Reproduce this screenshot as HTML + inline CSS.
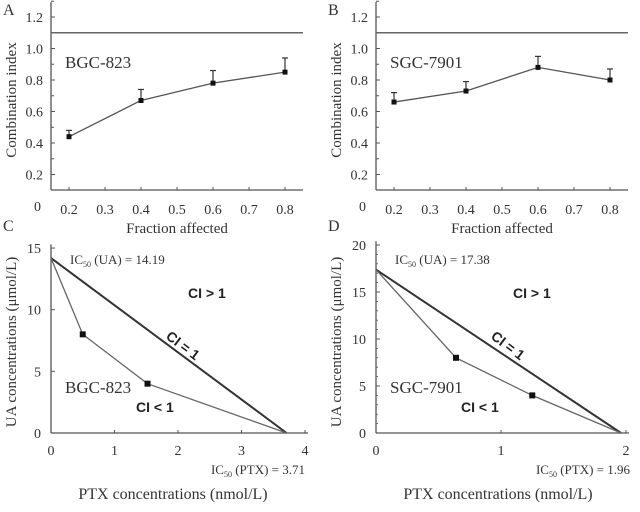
<!DOCTYPE html>
<html><head><meta charset="utf-8"><style>
body{margin:0;background:#fff}
svg{display:block;font-family:"Liberation Serif",serif;fill:#333}
.s{font-family:"Liberation Sans",sans-serif;font-weight:bold;fill:#222}
</style></head><body>
<svg id="c" width="640" height="512"></svg>
<script>
const fa = [0.2, 0.4, 0.6, 0.8];
const ciA = [0.44, 0.67, 0.78, 0.85];
const errA = [0.04, 0.07, 0.08, 0.09];
const ciB = [0.66, 0.73, 0.88, 0.80];
const errB = [0.06, 0.06, 0.07, 0.07];
const ciTicks = [0.2, 0.4, 0.6, 0.8, 1.0, 1.2];
const faTicks = [0.2, 0.3, 0.4, 0.5, 0.6, 0.7, 0.8];
const ptxC = [0, 0.5, 1.52, 3.71];
const uaC = [14.19, 8, 4, 0];
const ptxD = [0, 0.64, 1.25, 1.96];
const uaD = [17.38, 8, 4, 0];
const xTicksC = [0, 1, 2, 3, 4];
const yTicksC = [0, 5, 10, 15];
const xTicksD = [0, 1, 2];
const yTicksD = [0, 5, 10, 15, 20];

const svg = document.getElementById('c');
const NS = 'http://www.w3.org/2000/svg';
function el(tag, attrs, parent, txt){
  const e = document.createElementNS(NS, tag);
  for (const k in attrs) e.setAttribute(k, attrs[k]);
  if (txt !== undefined) e.textContent = txt;
  (parent || svg).appendChild(e);
  return e;
}
function ln(x1,y1,x2,y2,c,w,p){return el('line',{x1,y1,x2,y2,stroke:c||'#555','stroke-width':w||1.3},p);}

function ciPanel(ox, letter, label, vals, errs, name){
  const g = el('g', {});
  
  
  const x0 = ox + 51, xr = ox + 303, yb = 190;
  const X = v => x0 + (v - 0.15) * 360;
  const Y = v => 206 - v * 157.5;
  ln(x0, 2, x0, yb, '#555', 1.3, g);
  ln(x0, yb, xr, yb, '#555', 1.3, g);
  for (let v = 0.3; v <= 1.31; v += 0.2) ln(x0, Y(v), x0+3, Y(v), '#555', 1, g);
  ciTicks.forEach(t => {
    ln(x0, Y(t), x0+4, Y(t), '#555', 1, g);
    const tx = el('text', {x: x0-8, y: Y(t)+5, 'font-size': 14, 'text-anchor': 'end'}, g, t.toFixed(1));
    
  });
  el('text', {x: x0-10, y: 211, 'font-size': 14, 'text-anchor': 'end'}, g, '0');
  faTicks.forEach(t => {
    ln(X(t), yb, X(t), yb-3, '#555', 1, g);
    const tx = el('text', {x: X(t), y: 214, 'font-size': 14, 'text-anchor': 'middle'}, g, t.toFixed(1));
    
  });
  const ref = ln(x0, Y(1.1), xr, Y(1.1), '#666', 1.5, g);
  
  const pts = fa.map((f,i)=>X(f)+','+Y(vals[i])).join(' ');
  const pl = el('polyline', {points: pts, fill: 'none', stroke: '#555', 'stroke-width': 1.3}, g);
  
  fa.forEach((f,i)=>{
    const x = X(f), y = Y(vals[i]), yt = Y(vals[i]+errs[i]);
    const eb = ln(x, y, x, yt, '#333', 1.2, g);
    
    ln(x-3, yt, x+3, yt, '#333', 1.2, g);
    const m = el('rect', {x: x-2.5, y: y-2.5, width: 5, height: 5, fill: '#111'}, g);
    
  });
  const lt = el('text', {x: ox+3, y: 15, 'font-size': 16}, g, letter);
  
  const lb = el('text', {x: ox+65, y: 68, 'font-size': 17}, g, label);
  
  const yt = el('text', {x: 0, y: 0, 'font-size': 15, 'text-anchor': 'middle', transform: `translate(${ox+16},100) rotate(-90)`}, g, 'Combination index');
  
  const xt = el('text', {x: ox+177, y: 233, 'font-size': 15, 'text-anchor': 'middle'}, g, 'Fraction affected');
  
}

function isoPanel(ox, letter, label, px, ua, xT, yT, xs, ys, xmax, ymax, ic50ua, ic50ptx, name, minorY){
  const g = el('g', {});
  
  
  const x0 = ox, yb = 433;
  const X = v => x0 + v * xs;
  const Y = v => yb - v * ys;
  ln(x0, Y(ymax), x0, yb, '#555', 1.3, g);
  ln(x0, yb, X(xmax)+3, yb, '#555', 1.3, g);
  if (minorY) for (let v = 1; v < ymax; v++) ln(x0, Y(v), x0+2, Y(v), '#555', 0.8, g);
  yT.forEach(t => {
    ln(x0, Y(t), x0+4, Y(t), '#555', 1, g);
    const tx = el('text', {x: x0-10, y: Y(t)+5, 'font-size': 14, 'text-anchor': 'end'}, g, t);
    
  });
  xT.forEach(t => {
    ln(X(t), yb, X(t), yb-3, '#555', 1, g);
    const tx = el('text', {x: X(t), y: 455, 'font-size': 14, 'text-anchor': 'middle'}, g, t);
    
  });
  const ad = ln(X(0), Y(ua[0]), X(px[px.length-1]), Y(0), '#333', 2, g);
  
  const pl = el('polyline', {points: px.map((p,i)=>X(p)+','+Y(ua[i])).join(' '), fill:'none', stroke:'#666', 'stroke-width':1.3}, g);
  
  for (let i = 1; i < px.length-1; i++){
    const m = el('rect', {x: X(px[i])-3, y: Y(ua[i])-3, width: 6, height: 6, fill: '#111'}, g);
    
  }
  const lt = el('text', {x: ox-48, y: 231, 'font-size': 16}, g, letter);
  
  const ia = el('text', {x: ox+19, y: 264, 'font-size': 13}, g);
  
  ia.innerHTML = 'IC<tspan font-size="8" dy="3">50</tspan><tspan dy="-3"> (UA) = ' + ic50ua + '</tspan>';
  const ip = el('text', {x: ox+254, y: 474, 'font-size': 13, 'text-anchor': 'end'}, g);
  
  ip.innerHTML = 'IC<tspan font-size="8" dy="3">50</tspan><tspan dy="-3"> (PTX) = ' + ic50ptx + '</tspan>';
  const c1 = el('text', {x: ox+137, y: 298, 'font-size': 14, class: 's'}, g, 'CI > 1');
  
  const c2 = el('text', {x: 0, y: 0, 'font-size': 14, class: 's', transform: `translate(${ox+114},338) rotate(37)`}, g, 'CI = 1');
  
  const c3 = el('text', {x: ox+85, y: 412, 'font-size': 14, class: 's'}, g, 'CI < 1');
  
  const lb = el('text', {x: ox+14, y: 393, 'font-size': 17}, g, label);
  
  const yt = el('text', {x: 0, y: 0, 'font-size': 15, 'text-anchor': 'middle', transform: `translate(${ox-35},342) rotate(-90)`}, g, 'UA concentrations  (μmol/L)');
  
  const xt = el('text', {x: ox+122, y: 499, 'font-size': 16, 'text-anchor': 'middle'}, g, 'PTX concentrations (nmol/L)');
  
}

ciPanel(0, 'A', 'BGC-823', ciA, errA, 'panel-a');
ciPanel(325, 'B', 'SGC-7901', ciB, errB, 'panel-b');
isoPanel(51, 'C', 'BGC-823', ptxC, uaC, xTicksC, yTicksC, 63.5, 12.33, 4, 15.3, '14.19', '3.71', 'panel-c', false);
isoPanel(376, 'D', 'SGC-7901', ptxD, uaD, xTicksD, yTicksD, 125, 9.4, 2, 20.4, '17.38', '1.96', 'panel-d', true);
</script>
</body></html>
